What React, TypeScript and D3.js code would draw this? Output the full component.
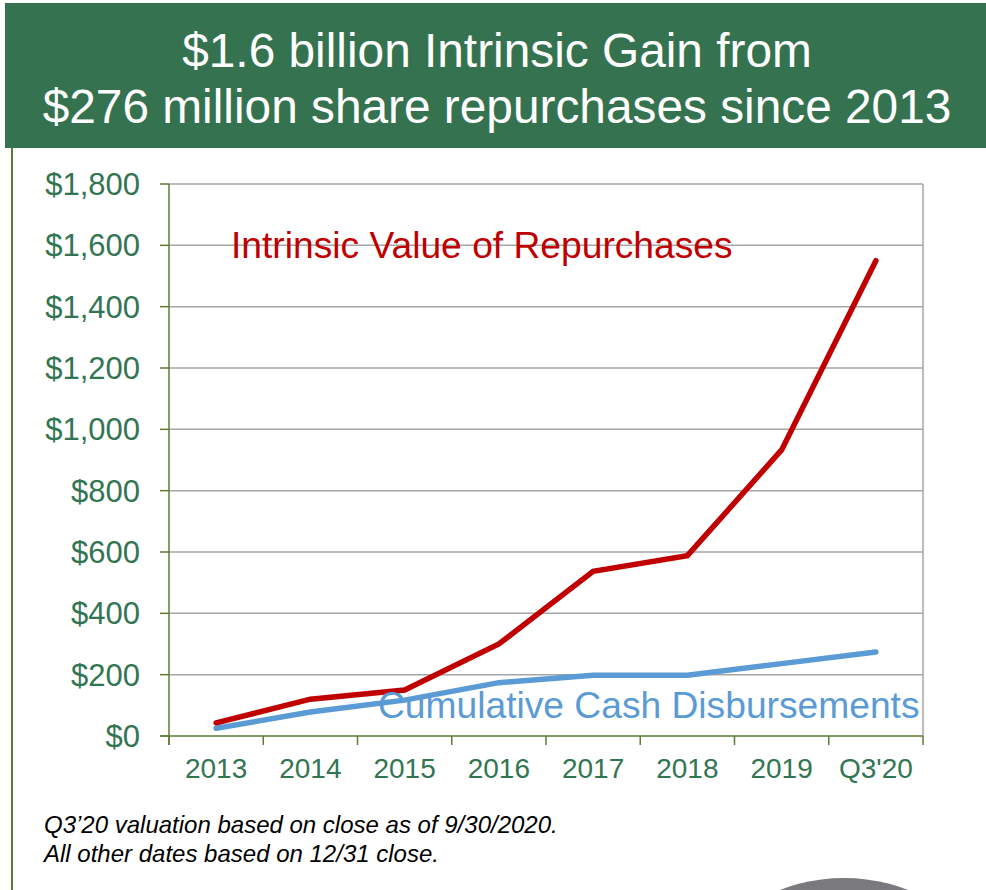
import React, { useEffect, useRef } from "react";
import * as d3 from "d3";

// values in $ millions
const categories = ["2013", "2014", "2015", "2016", "2017", "2018", "2019", "Q3'20"];
const intrinsicValue = [43, 120, 150, 300, 537, 588, 933, 1550];
const cashDisbursed = [25, 78, 117, 174, 198, 198, 236, 274];
const yTicks = [0, 200, 400, 600, 800, 1000, 1200, 1400, 1600, 1800];
const titleLines = ["$1.6 billion Intrinsic Gain from", "$276 million share repurchases since 2013"];
const footnotes = ["Q3\u201920 valuation based on close as of 9/30/2020.", "All other dates based on 12/31 close."];

const theme = {
  header: "#357350",
  olive: "#5e7b34",
  grid: "#a6a6a6",
  tickText: "#327552",
  red: "#c00000",
  blue: "#5b9bd5",
  font: "'Liberation Sans', Arial, sans-serif",
};

const App = () => {
  const svgRef = useRef<SVGSVGElement>(null);

  useEffect(() => {
    const width = 986;
    const height = 890;
    const plot = { left: 169, right: 923, top: 184, bottom: 736 };

    const svg = d3.select(svgRef.current);
    svg.selectAll("*").remove();
    svg.attr("width", width).attr("height", height);

    svg.append("rect").attr("width", width).attr("height", height).attr("fill", "#fff");

    // header band
    svg.append("rect")
      .attr("x", 5).attr("y", 3)
      .attr("width", width - 5).attr("height", 145)
      .attr("fill", theme.header);

    svg.selectAll(".title")
      .data(titleLines)
      .enter()
      .append("text")
      .attr("x", 497)
      .attr("y", (d, i) => 67 + i * 56)
      .attr("text-anchor", "middle")
      .attr("fill", "#fff")
      .style("font-family", theme.font)
      .style("font-size", "47.8px")
      .text((d) => d);

    // left slide rule
    svg.append("line")
      .attr("x1", 12).attr("x2", 12)
      .attr("y1", 148).attr("y2", height)
      .attr("stroke", theme.olive).attr("stroke-width", 2);

    // bottom-right decoration
    svg.append("ellipse")
      .attr("cx", 844).attr("cy", 950)
      .attr("rx", 116).attr("ry", 72)
      .attr("fill", "#7a7a7e");

    const x = d3.scaleBand().domain(categories).range([plot.left, plot.right]);
    const y = d3.scaleLinear().domain([0, 1800]).range([plot.bottom, plot.top]);

    // gridlines
    svg.append("g")
      .selectAll("line")
      .data(yTicks.filter((d) => d > 0))
      .enter()
      .append("line")
      .attr("x1", plot.left).attr("x2", plot.right)
      .attr("y1", (d) => y(d)).attr("y2", (d) => y(d))
      .attr("stroke", theme.grid).attr("stroke-width", 1.5);

    svg.append("line")
      .attr("x1", plot.right).attr("x2", plot.right)
      .attr("y1", plot.top).attr("y2", plot.bottom)
      .attr("stroke", theme.grid).attr("stroke-width", 1.5);

    // y axis
    svg.append("line")
      .attr("x1", plot.left).attr("x2", plot.left)
      .attr("y1", plot.top).attr("y2", plot.bottom + 9)
      .attr("stroke", theme.olive).attr("stroke-width", 1.5);

    svg.append("g")
      .selectAll("line")
      .data(yTicks)
      .enter()
      .append("line")
      .attr("x1", plot.left - 9).attr("x2", plot.left)
      .attr("y1", (d) => y(d)).attr("y2", (d) => y(d))
      .attr("stroke", theme.olive).attr("stroke-width", 1.5);

    svg.append("g")
      .selectAll("text")
      .data(yTicks)
      .enter()
      .append("text")
      .attr("x", 140)
      .attr("y", (d) => y(d) + 11)
      .attr("text-anchor", "end")
      .attr("fill", theme.tickText)
      .style("font-family", theme.font)
      .style("font-size", "31px")
      .text((d) => "$" + d3.format(",")(d));

    // x axis
    svg.append("line")
      .attr("x1", plot.left - 9).attr("x2", plot.right)
      .attr("y1", plot.bottom).attr("y2", plot.bottom)
      .attr("stroke", theme.olive).attr("stroke-width", 1.5);

    svg.append("g")
      .selectAll("line")
      .data([...categories.map((c) => x(c) as number), plot.right])
      .enter()
      .append("line")
      .attr("x1", (d) => d).attr("x2", (d) => d)
      .attr("y1", plot.bottom).attr("y2", plot.bottom + 9)
      .attr("stroke", theme.olive).attr("stroke-width", 1.5);

    svg.append("g")
      .selectAll("text")
      .data(categories)
      .enter()
      .append("text")
      .attr("x", (d) => (x(d) as number) + x.bandwidth() / 2)
      .attr("y", 778)
      .attr("text-anchor", "middle")
      .attr("fill", theme.tickText)
      .style("font-family", theme.font)
      .style("font-size", "28px")
      .text((d) => d);

    // series
    const line = d3.line<number>()
      .x((d, i) => (x(categories[i]) as number) + x.bandwidth() / 2)
      .y((d) => y(d));

    svg.append("path")
      .attr("d", line(cashDisbursed))
      .attr("fill", "none")
      .attr("stroke", theme.blue)
      .attr("stroke-width", 5.5)
      .attr("stroke-linecap", "round");

    svg.append("path")
      .attr("d", line(intrinsicValue))
      .attr("fill", "none")
      .attr("stroke", theme.red)
      .attr("stroke-width", 5.5)
      .attr("stroke-linecap", "round");

    // series labels
    svg.append("text")
      .attr("x", 231).attr("y", 258)
      .attr("fill", theme.red)
      .style("font-family", theme.font)
      .style("font-size", "37.2px")
      .text("Intrinsic Value of Repurchases");

    svg.append("text")
      .attr("x", 378).attr("y", 718)
      .attr("fill", theme.blue)
      .style("font-family", theme.font)
      .style("font-size", "37.2px")
      .text("Cumulative Cash Disbursements");

    // footnote
    svg.append("g")
      .selectAll("text")
      .data(footnotes)
      .enter()
      .append("text")
      .attr("x", 44)
      .attr("y", (d, i) => 833 + i * 29)
      .attr("fill", "#000")
      .style("font-family", theme.font)
      .style("font-style", "italic")
      .style("font-size", "24px")
      .text((d) => d);
  }, []);

  return (
    <svg ref={svgRef} style={{ position: "absolute", left: 0, top: 0, display: "block" }}></svg>
  );
};

export default App;
